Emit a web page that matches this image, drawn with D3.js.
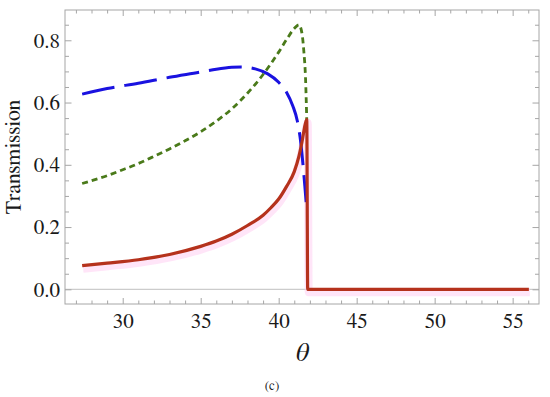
<!DOCTYPE html>
<html><head><meta charset="utf-8">
<script src="https://cdn.jsdelivr.net/npm/d3@7"></script>
<style>html,body{margin:0;padding:0;background:#fff;} svg{display:block;}</style>
</head><body>
<svg id="chart" width="550" height="397"></svg>
<script>
// ---- data ----
const xTicks = [30, 35, 40, 45, 50, 55];
const yTicks = [0.0, 0.2, 0.4, 0.6, 0.8];
const yTickLabels = ["0.0", "0.2", "0.4", "0.6", "0.8"];

const blueTheta = [27.4, 29.0, 31.0, 33.0, 35.0, 36.0, 37.0, 37.6, 38.5, 39.3, 40.0, 40.5, 40.9, 41.2, 41.4, 41.55, 41.68, 41.76];
const blueT     = [0.627, 0.645, 0.662, 0.681, 0.698, 0.707, 0.713, 0.714, 0.708, 0.692, 0.665, 0.633, 0.590, 0.540, 0.478, 0.405, 0.330, 0.280];

const greenTheta = [27.4, 29.0, 30.0, 31.0, 32.0, 33.0, 34.0, 35.0, 36.0, 37.0, 38.0, 39.0, 40.0, 40.5, 41.0, 41.3, 41.5, 41.62, 41.72, 41.8];
const greenT     = [0.340, 0.365, 0.384, 0.404, 0.427, 0.451, 0.477, 0.506, 0.540, 0.580, 0.630, 0.690, 0.762, 0.802, 0.838, 0.850, 0.820, 0.760, 0.680, 0.545];

const redTheta = [27.4, 29.0, 31.0, 33.0, 35.0, 36.0, 37.0, 38.0, 39.0, 39.5, 40.0, 40.5, 41.0, 41.3, 41.5, 41.7, 41.8, 41.86, 56.04];
const redT     = [0.076, 0.084, 0.095, 0.112, 0.138, 0.155, 0.177, 0.205, 0.238, 0.262, 0.290, 0.330, 0.378, 0.428, 0.475, 0.530, 0.545, 0.0, 0.0];

// ---- layout ----
const svg = d3.select("#chart");
const L = 65, R = 539, T = 10, B = 304;
const x = d3.scaleLinear().domain([26.30, 56.69]).range([L, R]);
const y = d3.scaleLinear().domain([-0.0472, 0.8973]).range([B, T]);
const serif = 'FreeSerif,"Liberation Serif","Times New Roman",Times,serif';
const txt = "#1a1a1a";

// zero line
svg.append("line").attr("x1", L).attr("x2", R).attr("y1", y(0)).attr("y2", y(0))
  .attr("stroke", "#cccccc").attr("stroke-width", 1.2);

// frame
svg.append("rect").attr("x", L).attr("y", T).attr("width", R - L).attr("height", B - T)
  .attr("fill", "none").attr("stroke", "#a6a6a6").attr("stroke-width", 1);

// ticks (mirrored on all four sides, pointing inward)
const xMinor = d3.range(27, 57, 1).filter(v => v % 5 !== 0);
const yMin = d3.range(-1, 18).map(i => i * 0.05).filter(v => v > -0.047 && v < 0.897 && Math.round(v * 100) % 20 !== 0);

function ticks(g, orient, scale, vals, len) {
  const a = orient === "bottom" ? d3.axisBottom(scale) : orient === "top" ? d3.axisTop(scale) : orient === "left" ? d3.axisLeft(scale) : d3.axisRight(scale);
  a.tickValues(vals).tickSize(-len).tickFormat("");
  g.call(a);
  g.select(".domain").remove();
  g.selectAll("text").remove();
  g.selectAll("line").attr("stroke", "#a6a6a6");
}
const gb = svg.append("g").attr("transform", `translate(0,${B})`);
ticks(gb.append("g"), "bottom", x, xTicks, 6);
ticks(gb.append("g"), "bottom", x, xMinor, 3.5);
const gt = svg.append("g").attr("transform", `translate(0,${T})`);
ticks(gt.append("g"), "top", x, xTicks, 6);
ticks(gt.append("g"), "top", x, xMinor, 3.5);
const gl = svg.append("g").attr("transform", `translate(${L},0)`);
ticks(gl.append("g"), "left", y, yTicks, 6.5);
ticks(gl.append("g"), "left", y, yMin, 4);
const gr = svg.append("g").attr("transform", `translate(${R},0)`);
ticks(gr.append("g"), "right", y, yTicks, 6.5);
ticks(gr.append("g"), "right", y, yMin, 4);

// tick labels
const xl = d3.axisBottom(x).tickValues(xTicks).tickSize(0).tickPadding(0).tickFormat(d3.format("d"));
const gxl = svg.append("g").attr("transform", `translate(0,${B})`).call(xl);
gxl.attr("font-family", null).attr("font-size", null);
gxl.select(".domain").remove();
gxl.selectAll("text").style("font-family", serif).style("font-size", "21px").attr("fill", txt)
  .attr("dy", null).attr("y", 24);
const yl = d3.axisLeft(y).tickValues(yTicks).tickSize(0).tickPadding(5).tickFormat((d, i) => yTickLabels[i]);
const gyl = svg.append("g").attr("transform", `translate(${L},0)`).call(yl);
gyl.attr("font-family", null).attr("font-size", null);
gyl.select(".domain").remove();
gyl.selectAll("text").style("font-family", serif).style("font-size", "21px").attr("fill", txt).attr("dy", "0.33em");

// axis titles
svg.append("text").attr("transform", `translate(20,${(T + B) / 2}) rotate(-90)`)
  .attr("text-anchor", "middle").style("font-family", serif).style("font-size", "22px").attr("fill", txt)
  .text("Transmission");
svg.append("text").attr("x", (L + R) / 2).attr("y", 361).attr("text-anchor", "middle")
  .style("font-family", serif).attr("font-style", "italic").style("font-size", "26px").attr("fill", txt)
  .text("θ");
svg.append("text").attr("x", 272).attr("y", 390).attr("text-anchor", "middle")
  .style("font-family", serif).style("font-size", "13px").attr("fill", txt)
  .text("(c)");

// curves
const line = d3.line().x(d => x(d[0])).y(d => y(d[1])).curve(d3.curveMonotoneX);
const blue = d3.zip(blueTheta, blueT);
const green = d3.zip(greenTheta, greenT);
const red = d3.zip(redTheta, redT);

// faint pink halo under the red curve
svg.append("path").datum(red).attr("d", line).attr("fill", "none")
  .attr("stroke", "#ffd0f2").attr("stroke-width", 8).attr("opacity", 0.55)
  .attr("transform", "translate(1,3)");

svg.append("path").datum(blue).attr("d", line).attr("fill", "none")
  .attr("stroke", "#1a12e0").attr("stroke-width", 3).attr("stroke-dasharray", "33,10");
svg.append("path").datum(green).attr("d", line).attr("fill", "none")
  .attr("stroke", "#4a7a1a").attr("stroke-width", 2.8).attr("stroke-dasharray", "6,4");
svg.append("path").datum(red).attr("d", line).attr("fill", "none")
  .attr("stroke", "#b5321c").attr("stroke-width", 3.2).attr("stroke-linejoin", "miter");
</script>
</body></html>
